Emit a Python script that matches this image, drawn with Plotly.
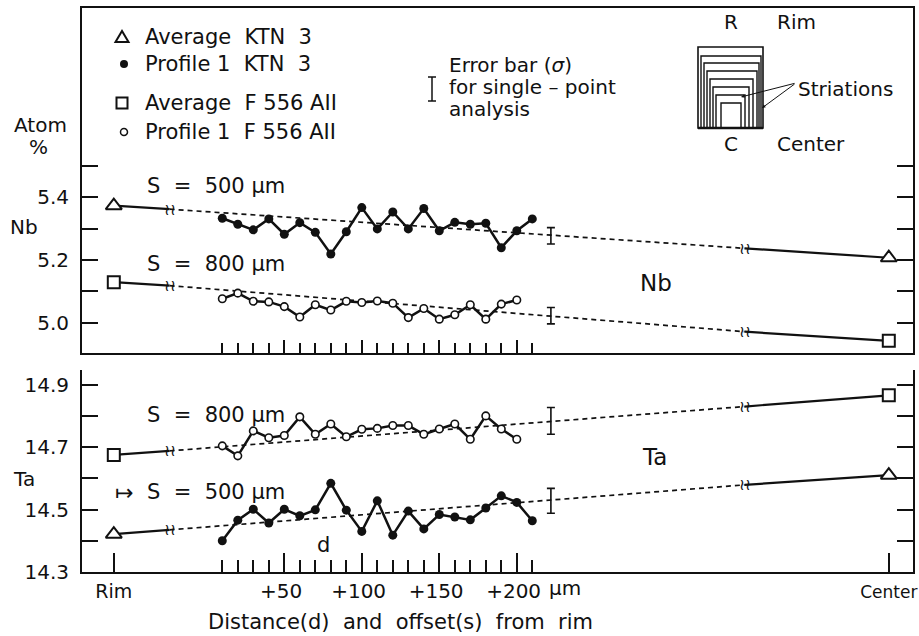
import plotly.graph_objects as go

# ---------------- data ----------------
# offsets (micrometres) of single-point analyses along the profiles
offsets_ktn3 = [10, 20, 30, 40, 50, 60, 70, 80, 90, 100, 110, 120, 130, 140, 150, 160, 170, 180, 190, 200, 210]
offsets_f556 = [10, 20, 30, 40, 50, 60, 70, 80, 90, 100, 110, 120, 130, 140, 150, 160, 170, 180, 190, 200]

nb_ktn3 = [5.333, 5.314, 5.296, 5.331, 5.282, 5.319, 5.288, 5.219, 5.290, 5.367, 5.299,
           5.353, 5.299, 5.364, 5.293, 5.320, 5.314, 5.317, 5.239, 5.293, 5.331]
nb_f556 = [5.076, 5.094, 5.068, 5.066, 5.051, 5.018, 5.057, 5.040, 5.068, 5.064,
           5.069, 5.062, 5.016, 5.045, 5.011, 5.025, 5.057, 5.011, 5.059, 5.072]
ta_f556 = [14.704, 14.672, 14.752, 14.730, 14.737, 14.797, 14.741, 14.774, 14.733, 14.757,
           14.760, 14.769, 14.769, 14.741, 14.758, 14.774, 14.725, 14.800, 14.758, 14.725]
ta_ktn3 = [14.400, 14.466, 14.501, 14.457, 14.501, 14.480, 14.499, 14.584, 14.498, 14.430, 14.528,
           14.418, 14.495, 14.438, 14.484, 14.476, 14.467, 14.505, 14.544, 14.523, 14.464]

# average lines: positions on the broken axis = [Rim, break, break, Center]
avg_pos = [-60, -24, 347, 440]
nb_ktn3_avg = [5.373, 5.362, 5.237, 5.207]
nb_f556_avg = [5.129, 5.118, 4.971, 4.942]
ta_f556_avg = [14.675, 14.688, 14.830, 14.866]
ta_ktn3_avg = [14.421, 14.435, 14.579, 14.610]

# single-point error bars (sigma)
err_pos = 222
nb_err_vals = [5.277, 5.022]
nb_err_sigma = [0.026, 0.026]
ta_err_vals = [14.784, 14.528]
ta_err_sigma = [0.043, 0.040]

major_ticks = [50, 100, 150, 200]
major_labels = ["+50", "+100", "+150", "+200"]
minor_ticks = [v for v in offsets_ktn3 if v not in major_ticks]
end_labels = ["Rim", "Center"]

nb_ticks = [5.0, 5.1, 5.2, 5.3, 5.4, 5.5]
nb_labels = ["5.0", "", "5.2", "", "5.4", ""]
ta_ticks = [14.3, 14.4, 14.5, 14.6, 14.7, 14.8, 14.9]
ta_labels = ["14.3", "", "14.5", "", "14.7", "", "14.9"]

legend_labels = ["Average\u00a0\u00a0KTN\u00a0\u00a03", "Profile 1\u00a0\u00a0KTN\u00a0\u00a03",
                 "Average\u00a0\u00a0F 556 AII", "Profile 1\u00a0\u00a0F 556 AII"]

# ---------------- layout geometry ----------------
W, H = 919, 636
L, R, T, B = 82, 913, 8, 572
ZERO_PX, PX_PER_UM = 206.8, 1.55
X_RANGE = [(L - ZERO_PX) / PX_PER_UM, (R - ZERO_PX) / PX_PER_UM]
NB_RANGE = [4.903, 6.004]
TA_RANGE = [14.3, 14.947]
NB_DOMAIN = [(B - 353) / (B - T), 1.0]
TA_DOMAIN = [0.0, (B - 370) / (B - T)]

FONT = "DejaVu Sans"
BLACK = "#111111"
NBSP = "\u00a0"


def fx(px):
    return (px - L) / (R - L)


def fy(py):
    return (B - py) / (B - T)


fig = go.Figure()


def add_avg(xa, ya, vals, symbol, msize):
    fig.add_trace(go.Scatter(
        x=[avg_pos[0], avg_pos[1], None, avg_pos[2], avg_pos[3]],
        y=[vals[0], vals[1], None, vals[2], vals[3]],
        mode="lines", line=dict(color=BLACK, width=2.2),
        xaxis=xa, yaxis=ya, showlegend=False, hoverinfo="skip"))
    fig.add_trace(go.Scatter(
        x=[avg_pos[1], avg_pos[2]], y=[vals[1], vals[2]],
        mode="lines", line=dict(color=BLACK, width=1.7, dash="5px,4px"),
        xaxis=xa, yaxis=ya, showlegend=False, hoverinfo="skip"))
    fig.add_trace(go.Scatter(
        x=[avg_pos[0], avg_pos[3]], y=[vals[0], vals[3]],
        mode="markers", showlegend=False,
        marker=dict(symbol=symbol, size=msize, color="white", line=dict(color=BLACK, width=2)),
        xaxis=xa, yaxis=ya))
    for i in (1, 2):
        fig.add_annotation(x=avg_pos[i], y=vals[i], xref=xa, yref=ya, text="≀≀",
                           showarrow=False, font=dict(family=FONT, size=16, color=BLACK))


def add_profile(xa, ya, xs, ys, filled):
    fig.add_trace(go.Scatter(
        x=xs, y=ys, mode="lines", line=dict(color=BLACK, width=2.5),
        xaxis=xa, yaxis=ya, showlegend=False, hoverinfo="skip"))
    if filled:
        mk = dict(symbol="circle", size=9, color=BLACK, line=dict(color=BLACK, width=0))
    else:
        mk = dict(symbol="circle", size=7.5, color="white", line=dict(color=BLACK, width=1.6))
    fig.add_trace(go.Scatter(x=xs, y=ys, mode="markers", marker=mk, showlegend=False,
                             xaxis=xa, yaxis=ya))


def add_err(xa, ya, val, sig):
    fig.add_trace(go.Scatter(
        x=[err_pos], y=[val], mode="markers",
        marker=dict(size=1, color="rgba(0,0,0,0)"),
        error_y=dict(type="data", array=[sig], visible=True, color=BLACK, thickness=1.6, width=4),
        xaxis=xa, yaxis=ya, showlegend=False, hoverinfo="skip"))


# Nb panel (top)
add_avg("x2", "y", nb_ktn3_avg, "triangle-up", 14)
add_avg("x2", "y", nb_f556_avg, "square", 12)
add_err("x2", "y", nb_err_vals[0], nb_err_sigma[0])
add_err("x2", "y", nb_err_vals[1], nb_err_sigma[1])
add_profile("x2", "y", offsets_ktn3, nb_ktn3, True)
add_profile("x2", "y", offsets_f556, nb_f556, False)

# Ta panel (bottom)
add_avg("x", "y2", ta_f556_avg, "square", 12)
add_avg("x", "y2", ta_ktn3_avg, "triangle-up", 14)
add_err("x", "y2", ta_err_vals[0], ta_err_sigma[0])
add_err("x", "y2", ta_err_vals[1], ta_err_sigma[1])
add_profile("x", "y2", offsets_f556, ta_f556, False)
add_profile("x", "y2", offsets_ktn3, ta_ktn3, True)

tickfont = dict(family=FONT, size=20, color=BLACK)
common_x = dict(range=X_RANGE, showgrid=False, zeroline=False, linecolor=BLACK, linewidth=2,
                automargin=False)

bottom_vals = [avg_pos[0]] + major_ticks + [avg_pos[3]]
bottom_text = (["<span style='font-size:19px'>" + end_labels[0] + "</span>"]
               + [s + NBSP for s in major_labels]
               + ["<span style='font-size:17px'>" + end_labels[1] + "</span>"])

fig.update_layout(
    width=W, height=H,
    margin=dict(l=L, r=W - R, t=T, b=H - B, autoexpand=False),
    paper_bgcolor="white", plot_bgcolor="white",
    font=dict(family=FONT, color=BLACK),
    showlegend=False,
    xaxis=dict(**common_x, domain=[0, 1], anchor="y2", showline=True,
               ticks="inside", tickvals=bottom_vals, ticktext=bottom_text,
               ticklen=19, tickwidth=1.6, tickcolor=BLACK, tickfont=tickfont, ticklabelstandoff=0,
               ticklabeloverflow="allow",
               minor=dict(tickvals=minor_ticks, ticks="inside", ticklen=12, tickwidth=1.5, tickcolor=BLACK)),
    xaxis2=dict(**common_x, domain=[0, 1], anchor="y", matches="x", showline=True, mirror=True,
                showticklabels=False, ticks="inside", tickvals=major_ticks, ticklen=13,
                tickwidth=1.5, tickcolor=BLACK,
                minor=dict(tickvals=minor_ticks, ticks="inside", ticklen=10, tickwidth=1.5, tickcolor=BLACK)),
    yaxis=dict(domain=NB_DOMAIN, anchor="x2", range=NB_RANGE, showgrid=False, zeroline=False,
               showline=True, mirror="ticks", linecolor=BLACK, linewidth=2, automargin=False,
               ticks="inside", tickvals=nb_ticks, ticktext=nb_labels, ticklen=16, tickwidth=1.5,
               tickcolor=BLACK, tickfont=tickfont, ticklabelstandoff=7),
    yaxis2=dict(domain=TA_DOMAIN, anchor="x", range=TA_RANGE, showgrid=False, zeroline=False,
                showline=True, mirror="ticks", linecolor=BLACK, linewidth=2, automargin=False,
                ticks="inside", tickvals=ta_ticks, ticktext=ta_labels, ticklen=16, tickwidth=1.5,
                tickcolor=BLACK, tickfont=tickfont, ticklabelstandoff=7),
)


def txt(px, py, s, size=21, anchor="center"):
    fig.add_annotation(x=fx(px), y=fy(py), xref="paper", yref="paper", text=s, showarrow=False,
                       xanchor=anchor, yanchor="middle",
                       font=dict(family=FONT, size=size, color=BLACK))


def shp(**kw):
    base = dict(xref="paper", yref="paper")
    base.update(kw)
    fig.add_shape(**base)


# ---- key (legend) ----
rows = [37, 64, 103, 132]
for lab, ry in zip(legend_labels, rows):
    txt(143, ry, lab, 21, "left")
shp(type="path", path="M {} {} L {} {} L {} {} Z".format(fx(115.5), fy(rows[0] + 5), fx(128.5), fy(rows[0] + 5),
                                                           fx(122), fy(rows[0] - 6)),
    line=dict(color=BLACK, width=2), fillcolor="white")
shp(type="circle", x0=fx(120), x1=fx(128), y0=fy(rows[1] + 4), y1=fy(rows[1] - 4),
    line=dict(color=BLACK, width=0), fillcolor=BLACK)
shp(type="rect", x0=fx(116.5), x1=fx(127.5), y0=fy(rows[2] + 5.5), y1=fy(rows[2] - 5.5),
    line=dict(color=BLACK, width=2), fillcolor="white")
shp(type="circle", x0=fx(120.5), x1=fx(127.5), y0=fy(rows[3] + 3.5), y1=fy(rows[3] - 3.5),
    line=dict(color=BLACK, width=1.5), fillcolor="white")

# axis-side labels
txt(40, 125, "Atom", 20)
txt(38, 147, "%", 20)
txt(24, 227, "Nb", 20)
txt(24, 479, "Ta", 20)
# panel labels
txt(145, 186, "S" + NBSP * 2 + "=" + NBSP * 2 + "500 µm", 21, "left")
txt(145, 264, "S" + NBSP * 2 + "=" + NBSP * 2 + "800 µm", 21, "left")
txt(145, 415, "S" + NBSP * 2 + "=" + NBSP * 2 + "800 µm", 21, "left")
txt(145, 492, "S" + NBSP * 2 + "=" + NBSP * 2 + "500 µm", 21, "left")
txt(124, 492, "↦", 22)
txt(656, 283, "Nb", 23)
txt(654, 457, "Ta", 23)
txt(323, 545, "d", 21)
txt(565, 588, "µm", 20)
txt(400, 622, "Distance(d)" + NBSP * 2 + "and" + NBSP * 2 + "offset(s)" + NBSP * 2 + "from" + NBSP * 2 + "rim", 21)
# error bar key
txt(447, 65, "Error" + NBSP + "bar" + NBSP + "(<i>σ</i>)", 20, "left")
txt(447, 87, "for" + NBSP + "single – point", 20, "left")
txt(447, 109, "analysis", 20, "left")
# inset key
txt(731, 22, "R", 20)
txt(775, 22, "Rim", 20, "left")
txt(796, 89, "Striations", 20, "left")
txt(731, 144, "C", 20)
txt(775, 144, "Center", 20, "left")

# error bar key glyph
ex, ey0, ey1 = 432, 77, 101
for (x0, y0, x1, y1) in [(ex, ey0, ex, ey1), (ex - 4, ey0, ex + 4, ey0), (ex - 4, ey1, ex + 4, ey1)]:
    shp(type="line", x0=fx(x0), y0=fy(y0), x1=fx(x1), y1=fy(y1), line=dict(color=BLACK, width=1.5))

# inset: nested striation rectangles sharing the bottom edge
rects = [(698, 763, 47), (701, 761, 56), (704, 759, 63), (707, 757, 71),
         (710, 753, 79), (713, 749, 87), (716, 745, 95), (721, 741, 103)]
for i, (x0, x1, yt) in enumerate(rects):
    shp(type="rect", x0=fx(x0), x1=fx(x1), y0=fy(128), y1=fy(yt),
        line=dict(color=BLACK, width=1.6 if i == 0 else 1.4), fillcolor="rgba(0,0,0,0)")
shp(type="line", x0=fx(698), x1=fx(763), y0=fy(128), y1=fy(128), line=dict(color=BLACK, width=2.5))
for (tx, ty) in [(741, 97), (762, 108)]:
    fig.add_annotation(x=fx(tx), y=fy(ty), xref="paper", yref="paper", text="", showarrow=True,
                       ax=796 - tx, ay=83 - ty, arrowhead=2, arrowsize=0.7, arrowwidth=1,
                       arrowcolor=BLACK)

fig.write_html("out.html", config={"displayModeBar": False},
               post_script="document.body.style.margin='0px';")
